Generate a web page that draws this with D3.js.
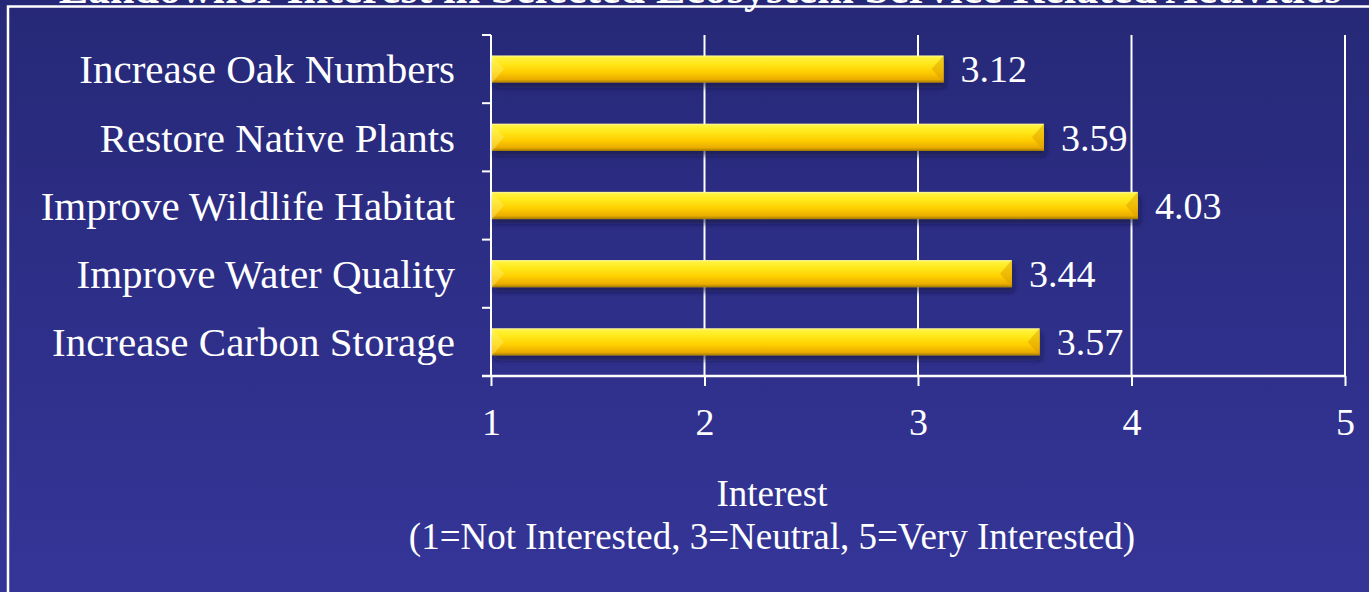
<!DOCTYPE html>
<html>
<head>
<meta charset="utf-8">
<script src="https://cdn.jsdelivr.net/npm/d3@7"></script>
<style>
  html, body { margin: 0; padding: 0; overflow: hidden; background: #2e2f88; }
  svg { display: block; }
  text { font-family: "Liberation Serif", "DejaVu Serif", serif; fill: #ffffff; }
</style>
</head>
<body>
<svg id="chart" width="1369" height="592"></svg>
<script>
const categories = ["Increase Oak Numbers", "Restore Native Plants", "Improve Wildlife Habitat", "Improve Water Quality", "Increase Carbon Storage"];
const values = [3.12, 3.59, 4.03, 3.44, 3.57];
const xTicks = [1, 2, 3, 4, 5];
const titleText = "Landowner Interest in Selected Ecosystem Service Related Activities";
const axisTitle = "Interest";
const axisSubtitle = "(1=Not Interested, 3=Neutral, 5=Very Interested)";

const W = 1369, H = 592;
const svg = d3.select("#chart");
const defs = svg.append("defs");

const bg = defs.append("linearGradient").attr("id", "bg").attr("x1", 0).attr("y1", 0).attr("x2", 0).attr("y2", 1);
bg.append("stop").attr("offset", "0%").attr("stop-color", "#262877");
bg.append("stop").attr("offset", "100%").attr("stop-color", "#353598");

const bar = defs.append("linearGradient").attr("id", "bar").attr("x1", 0).attr("y1", 0).attr("x2", 0).attr("y2", 1);
[["0%", "#fff7a0"], ["8%", "#fff23a"], ["30%", "#ffe81a"], ["60%", "#ffcf00"], ["88%", "#ebac00"], ["100%", "#a07a00"]]
  .forEach(([o, c]) => bar.append("stop").attr("offset", o).attr("stop-color", c));

const shadow = defs.append("filter").attr("id", "shadow").attr("x", "-5%").attr("y", "-50%").attr("width", "110%").attr("height", "250%");
shadow.append("feDropShadow").attr("dx", 2).attr("dy", 5).attr("stdDeviation", 2.5)
  .attr("flood-color", "#0c0c3a").attr("flood-opacity", 0.55);

svg.append("rect").attr("width", W).attr("height", H).attr("fill", "url(#bg)");

// title (cut off by the top edge, as in the reference)
svg.append("text").attr("x", 700).attr("y", 3).attr("text-anchor", "middle")
  .attr("font-size", 44).attr("font-weight", "bold").text(titleText);

// frame
svg.append("path").attr("d", `M8,${H + 5} L8,6.5 L${W + 5},6.5`)
  .attr("fill", "none").attr("stroke", "#ffffff").attr("stroke-width", 2.5);

const x = d3.scaleLinear().domain([1, 5]).range([491, 1345]);
const y = d3.scaleBand().domain(categories).range([35, 376]).paddingInner(0.6).paddingOuter(0.3);

// gridlines
svg.append("g").selectAll("line").data(xTicks.slice(1)).join("line")
  .attr("x1", d => x(d)).attr("x2", d => x(d)).attr("y1", 35).attr("y2", 376)
  .attr("stroke", "#ffffff").attr("stroke-width", 2);

// x axis
const xAxis = svg.append("g").attr("transform", "translate(0,376)")
  .call(d3.axisBottom(x).tickValues(xTicks).tickSize(10).tickPadding(22).tickFormat(d3.format("d")).tickSizeOuter(0));
xAxis.select(".domain").remove();
xAxis.append("line").attr("x1", 482).attr("x2", x(5)).attr("y1", 0).attr("y2", 0).attr("stroke", "#fff").attr("stroke-width", 2.5);
xAxis.selectAll(".tick line").attr("stroke", "#fff").attr("stroke-width", 2);
xAxis.selectAll(".tick text").attr("fill", "#fff").attr("font-size", 38)
  .attr("font-family", "'Liberation Serif', serif").attr("dy", "0.71em");

// y axis line + ticks at band boundaries
const boundaries = categories.map(c => y(c) - y.step() * y.paddingInner() / 2);
boundaries.push(376);
svg.append("line").attr("x1", x(1)).attr("x2", x(1)).attr("y1", 35).attr("y2", 376)
  .attr("stroke", "#fff").attr("stroke-width", 2);
svg.append("g").selectAll("line").data(boundaries).join("line")
  .attr("x1", 482).attr("x2", x(1)).attr("y1", d => d).attr("y2", d => d)
  .attr("stroke", "#fff").attr("stroke-width", 2);

// category labels
svg.append("g").selectAll("text").data(categories).join("text")
  .attr("x", 455).attr("y", d => y(d) + y.bandwidth() / 2).attr("dy", "0.35em")
  .attr("text-anchor", "end").attr("font-size", 41).text(d => d);

// bars
const bars = svg.append("g").selectAll("g").data(categories).join("g");
bars.append("rect")
  .attr("x", x(1) + 1).attr("y", d => y(d))
  .attr("width", (d, i) => x(values[i]) - x(1) - 1).attr("height", y.bandwidth())
  .attr("fill", "url(#bar)").attr("filter", "url(#shadow)");
bars.append("path")
  .attr("d", (d, i) => {
    const x1 = x(values[i]), t = y(d), h = y.bandwidth();
    return `M${x1},${t + h} L${x1 - 12},${t + h / 2} L${x1},${t} Z`;
  }).attr("fill", "#d99a00").attr("opacity", 0.45);
bars.append("path")
  .attr("d", (d, i) => {
    const x0 = x(1) + 1, t = y(d), h = y.bandwidth();
    return `M${x0},${t} L${x0 + 12},${t + h / 2} L${x0},${t + h} Z`;
  }).attr("fill", "#fff27a").attr("opacity", 0.4);

// value labels
svg.append("g").selectAll("text").data(categories).join("text")
  .attr("x", (d, i) => x(values[i]) + 17).attr("y", d => y(d) + y.bandwidth() / 2).attr("dy", "0.35em")
  .attr("font-size", 38).text((d, i) => d3.format(".2f")(values[i]));

// axis titles
svg.append("text").attr("x", 772).attr("y", 506).attr("text-anchor", "middle").attr("font-size", 37).text(axisTitle);
svg.append("text").attr("x", 772).attr("y", 549).attr("text-anchor", "middle").attr("font-size", 37).text(axisSubtitle);
</script>
</body>
</html>
